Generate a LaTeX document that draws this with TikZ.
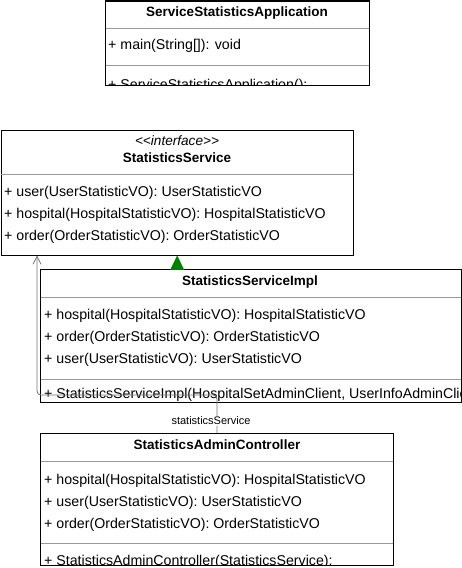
\documentclass[tikz,border=0pt]{standalone}
\usepackage{fontspec}
\setmainfont{Liberation Sans}
\newfontfamily\stereofont{Liberation Sans}
\usetikzlibrary{arrows.meta}

\tikzset{
  classbox/.style={draw=black, fill=white, line width=0.9pt, inner sep=0pt, anchor=north west},
  sepline/.style={draw=black!40, line width=0.8pt},
  member/.style={anchor=west, inner sep=0pt, font=\fontsize{14.2}{16}\selectfont},
  title/.style={inner sep=0pt, font=\bfseries\fontsize{13.5}{16}\selectfont},
  stereo/.style={inner sep=0pt, font=\stereofont\itshape\fontsize{13.6}{16}\selectfont},
  assoc/.style={draw=black!55, line width=0.8pt, rounded corners=4pt},
}

\begin{document}
\begin{tikzpicture}[x=1pt, y=-1pt]
  \useasboundingbox (0,0) rectangle (462,568);
  \clip (0,0) rectangle (462,568);

  % ServiceStatisticsApplication
  \node[classbox, minimum width=264pt, minimum height=84pt] (app) at (105,0.5) {};
  \begin{scope}
    \clip (app.north west) rectangle (app.south east);
    \node[title] (appname) at (237,13) {ServiceStatisticsApplication};
    \draw[sepline] (105,28) -- (369,28);
    \node[member] (appm1) at (108,46) {+ main(String[]): void};
    \draw[sepline] (105,65) -- (369,65);
    \node[member] (appc1) at (108,86) {+ ServiceStatisticsApplication();};
  \end{scope}
  \draw[line width=0.9pt] (app.north west) rectangle (app.south east);

  % StatisticsService
  \node[classbox, minimum width=352.5pt, minimum height=124.5pt] (svc) at (0.5,130) {};
  \node[stereo] (svcstereo) at (177,141) {<<interface>>};
  \node[title] (svcname) at (177,158) {StatisticsService};
  \draw[sepline] (0.5,174) -- (353,174);
  \node[member] (svcm1) at (4,193) {+ user(UserStatisticVO): UserStatisticVO};
  \node[member] (svcm2) at (4,215) {+ hospital(HospitalStatisticVO): HospitalStatisticVO};
  \node[member] (svcm3) at (4,237) {+ order(OrderStatisticVO): OrderStatisticVO};

  % StatisticsServiceImpl
  \node[classbox, minimum width=421pt, minimum height=133pt] (impl) at (40,269) {};
  \begin{scope}
    \clip (impl.north west) rectangle (impl.south east);
    \node[title] (implname) at (250,282) {StatisticsServiceImpl};
    \draw[sepline] (40,297) -- (461,297);
    \node[member] (implm1) at (44,316) {+ hospital(HospitalStatisticVO): HospitalStatisticVO};
    \node[member] (implm2) at (44,338) {+ order(OrderStatisticVO): OrderStatisticVO};
    \node[member] (implm3) at (44,360) {+ user(UserStatisticVO): UserStatisticVO};
    \draw[sepline] (40,379) -- (461,379);
    \node[member] (implc1) at (44,395) {+ StatisticsServiceImpl(HospitalSetAdminClient, UserInfoAdminClient, OrderFeignClient);};
  \end{scope}
  \draw[line width=0.9pt] (impl.north west) rectangle (impl.south east);

  % StatisticsAdminController
  \node[classbox, minimum width=353pt, minimum height=132pt] (ctrl) at (40,433) {};
  \begin{scope}
    \clip (ctrl.north west) rectangle (ctrl.south east);
    \node[title] (ctrlname) at (217,445) {StatisticsAdminController};
    \draw[sepline] (40,461) -- (393,461);
    \node[member] (ctrlm1) at (44,481) {+ hospital(HospitalStatisticVO): HospitalStatisticVO};
    \node[member] (ctrlm2) at (44,503) {+ user(UserStatisticVO): UserStatisticVO};
    \node[member] (ctrlm3) at (44,525) {+ order(OrderStatisticVO): OrderStatisticVO};
    \draw[sepline] (40,543) -- (393,543);
    \node[member] (ctrlc1) at (44,562) {+ StatisticsAdminController(StatisticsService);};
  \end{scope}
  \draw[line width=0.9pt] (ctrl.north west) rectangle (ctrl.south east);

  % realization
  \fill[green!50!black] (svc.south) -- ++(-7,14.5) -- ++(14,0) -- cycle;

  % association with label
  \coordinate (bend) at (37,395);
  \draw[assoc, -{Straight Barb[length=8pt, width=8pt]}] (ctrl.north) -- (ctrl.north |- bend) -- (bend) -- (bend |- svc.south);
  \node[fill=white, inner sep=1pt, font=\fontsize{11}{13}\selectfont] (assoclabel) at (211,421) {statisticsService};
\end{tikzpicture}
\end{document}
